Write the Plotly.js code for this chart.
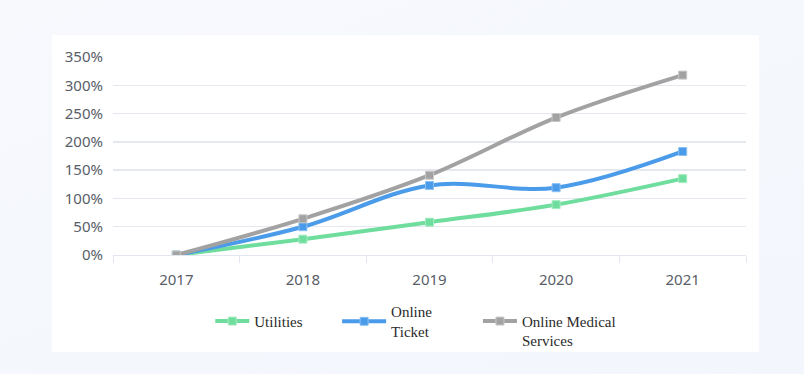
<!DOCTYPE html>
<html>
<head>
<meta charset="utf-8">
<script src="https://cdn.plot.ly/plotly-3.0.1.min.js"></script>
<style>
  html, body { margin: 0; padding: 0; }
  body { width: 804px; height: 374px; background: linear-gradient(160deg, #f7f9fd 0%, #f3f6fc 100%); position: relative; overflow: hidden; }
  #card { position: absolute; left: 52px; top: 35px; width: 707px; height: 317px; background: #ffffff; }
  #chart { position: absolute; left: 0; top: 0; width: 804px; height: 374px; }
</style>
</head>
<body>
<div id="card"></div>
<div id="chart"></div>
<script>
const years = ['2017', '2018', '2019', '2020', '2021'];
const utilities = [0, 28, 58, 89, 135];
const onlineTicket = [0, 50, 123, 119, 183];
const onlineMedical = [0, 64, 141, 243, 318];
const yTickVals = [0, 50, 100, 150, 200, 250, 300, 350];
const yTickText = ['0%', '50%', '100%', '150%', '200%', '250%', '300%', '350%'];
const seriesNames = ['Utilities', 'Online<br>Ticket', ' <br>Online Medical<br>Services'];

function trace(name, values, color, border, legendId) {
  return {
    type: 'scatter', mode: 'lines+markers', name: name, legend: legendId,
    x: years, y: values,
    line: { color: color, width: 4, shape: 'spline', smoothing: 1 },
    marker: { symbol: 'square', size: 8, color: color, line: { color: border, width: 1 } }
  };
}

const data = [
  trace(seriesNames[0], utilities, '#6fdd9d', '#a6ecc2', 'legend'),
  trace(seriesNames[1], onlineTicket, '#4a9be9', '#8cc0f2', 'legend2'),
  trace(seriesNames[2], onlineMedical, '#a2a2a2', '#c8c8c8', 'legend3')
];

const plotL = 112.6, plotW = 633.8;
const px = v => (v - plotL) / plotW;
const legendFont = { family: 'Liberation Serif, serif', size: 15, color: '#2b2b2b' };
function legendAt(xPx, itemW) {
  return {
    x: px(xPx), xanchor: 'left', y: -0.335, yanchor: 'middle',
    font: legendFont, bgcolor: 'rgba(0,0,0,0)', valign: 'middle',
    itemwidth: itemW
  };
}

const layout = {
  width: 804, height: 374,
  paper_bgcolor: 'rgba(0,0,0,0)', plot_bgcolor: 'rgba(0,0,0,0)',
  margin: { l: 112.6, r: 57.6, t: 57, b: 118.5 },
  showlegend: true,
  xaxis: {
    type: 'category', range: [-0.5, 4.5],
    showgrid: false, showline: true, linecolor: '#e3e6ee', linewidth: 1,
    ticks: 'outside', tickson: 'boundaries', ticklen: 7, tickcolor: '#e3e6ee',
    ticklabelstandoff: 11,
    tickfont: { family: 'Noto Sans, sans-serif', size: 15, color: '#595e68' },
    zeroline: false, fixedrange: true
  },
  yaxis: {
    range: [0, 350], tickvals: yTickVals, ticktext: yTickText,
    showgrid: true, gridcolor: '#e6e8f0', gridwidth: 1.5,
    zeroline: false, showline: false, ticks: '',
    ticklabelstandoff: 9,
    tickfont: { family: 'Noto Sans, sans-serif', size: 15, color: '#595e68' },
    fixedrange: true
  },
  legend: legendAt(210, 34),
  legend2: legendAt(337, 44),
  legend3: legendAt(478, 34)
};

Plotly.newPlot('chart', data, layout, { displayModeBar: false, staticPlot: true });
</script>
</body>
</html>
